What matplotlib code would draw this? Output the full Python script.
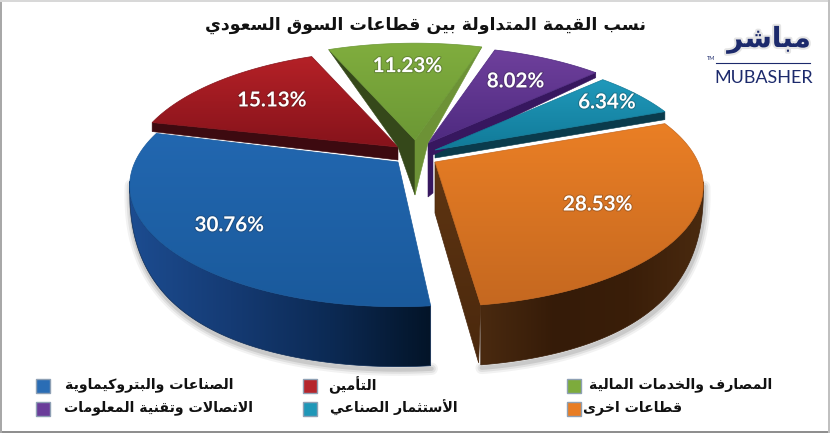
import numpy as np
import matplotlib
matplotlib.use("Agg")
import matplotlib.pyplot as plt
from matplotlib.patches import Polygon, Rectangle
from matplotlib.colors import LinearSegmentedColormap
import matplotlib.patheffects as pe

# ---------- data ----------
title_text = "نسب القيمة المتداولة بين قطاعات السوق السعودي"
categories = ["الصناعات والبتروكيماوية", "التأمين", "المصارف والخدمات المالية",
              "الاتصالات وتقنية المعلومات", "الأستثمار الصناعي", "قطاعات اخرى"]
values = [30.76, 15.13, 11.23, 8.02, 6.34, 28.53]
logo_ar = "مباشر"
logo_en = "MUBASHER"

# ---------- style ----------
START = 167.3                  # red/blue boundary; the slices after blue run clockwise from here
BLUE_START = 165.0             # blue is drawn slightly rotated from its neighbours, as in the picture
R, S, K = 263.0, 116.0, 0.198  # perspective of the pie disc
CENTER = (415, 155)
offsets = [(-17, 7), (-17, -8), (0, -15), (13, -12), (20, -5), (20, 7)]
label_r = [0.76, 0.68, 0.73, 0.70, 0.84, 0.67]
top_grad = [("#2267b0", "#1a5a9c"), ("#b52127", "#86131b"), ("#80ad3e", "#6c9835"),
            ("#6f409c", "#4e2a80"), ("#2099bb", "#117a98"), ("#ea7f25", "#c56820")]
legend_fill = ["#2a6db5", "#b5252c", "#7dab3c", "#6a3d9a", "#1f97b8", "#e87d24"]

# ---------- arabic shaping (matplotlib does not shape or reorder) ----------
LET = "ءآأؤإئابةتثجحخدذرزسشصضطظعغفقكلمنهوىي"
NF = [1, 2, 2, 2, 2, 4, 2, 4, 2, 4, 4, 4, 4, 4, 2, 2, 2, 2, 4, 4, 4, 4, 4, 4, 4, 4, 4, 4, 4, 4, 4, 4, 4, 2, 2, 4]
FORMS = {}
_c = 0xFE80
for _l, _n in zip(LET, NF):
    FORMS[_l] = [_c + i for i in range(_n)]
    _c += _n
LAM_ALEF = {"ا": (0xFEFB, 0xFEFC), "أ": (0xFEF7, 0xFEF8), "إ": (0xFEF9, 0xFEFA), "آ": (0xFEF5, 0xFEF6)}


def dual(ch):
    return ch in FORMS and len(FORMS[ch]) == 4


def shape(text):
    out, i, n = [], 0, len(text)
    while i < n:
        ch = text[i]
        if ch not in FORMS:
            out.append(ch)
            i += 1
            continue
        prev_join = i > 0 and dual(text[i - 1])
        if ch == "ل" and i + 1 < n and text[i + 1] in LAM_ALEF:
            out.append(chr(LAM_ALEF[text[i + 1]][1 if prev_join else 0]))
            i += 2
            continue
        next_join = i + 1 < n and text[i + 1] in FORMS and text[i + 1] != "ء"
        f = FORMS[ch]
        if len(f) == 1:
            g = f[0]
        elif len(f) == 2:
            g = f[1] if prev_join else f[0]
        else:
            g = f[3] if prev_join and next_join else f[1] if prev_join else f[2] if next_join else f[0]
        out.append(chr(g))
        i += 1
    return "".join(reversed(out))


# ---------- figure ----------
fig = plt.figure(figsize=(8.3, 4.33), dpi=100)
ax = fig.add_axes([0, 0, 1, 1])
ax.set_xlim(0, 830)
ax.set_ylim(433, 0)
ax.axis("off")


def proj(theta, r=1.0):
    t = np.radians(theta)
    x, y = r * np.cos(t), r * np.sin(t)
    w = 1 + K * y
    return np.column_stack([R * x / w, -S * y / w]) if np.ndim(theta) else np.array([R * x / w, -S * y / w])


def grad_poly(pts, colors, horizontal=False, z=2):
    pts = np.asarray(pts)
    cmap = LinearSegmentedColormap.from_list("g", colors)
    arr = np.linspace(0, 1, 256)
    arr = arr[None, :] if horizontal else arr[:, None]
    x0, y0 = pts.min(0)
    x1, y1 = pts.max(0)
    im = ax.imshow(arr, cmap=cmap, extent=(x0, x1, y1, y0), aspect="auto", zorder=z, interpolation="bilinear")
    p = Polygon(pts, closed=True, transform=ax.transData, fc="none", ec="none")
    ax.add_patch(p)
    im.set_clip_path(p)
    ax.add_patch(Polygon(pts, closed=True, fc="none", ec=colors[len(colors) // 2], lw=0.5, zorder=z))
    ax.set_xlim(0, 830)
    ax.set_ylim(433, 0)


def wall_depth(theta, D=60.0):
    s = np.clip((-np.sin(np.radians(theta)) - 0.15) / 0.85, 0, 1)
    return D * (1 - (1 - s) ** 2)


# slice angles from the values
total = sum(values)
bounds = {0: (BLUE_START, BLUE_START + values[0] / total * 360)}
cur = START
for i in [1, 2, 3, 4, 5]:
    bounds[i] = (cur, cur - values[i] / total * 360)
    cur -= values[i] / total * 360


def slice_pts(i):
    a0, a1 = bounds[i]
    th = np.linspace(a0, a1, 120)
    apex = np.array(CENTER) + np.array(offsets[i])
    return apex, th, apex + proj(th)


def top(i):
    apex, th, rim = slice_pts(i)
    grad_poly(np.vstack([apex, rim]), top_grad[i], z=3 + i * 0.1)


def outer_wall(i, colors):
    apex, th, rim = slice_pts(i)
    d = wall_depth(th)
    keep = d > 0
    upper, lower = rim[keep], rim[keep] + np.column_stack([np.zeros(keep.sum()), d[keep]])
    grad_poly(np.vstack([upper, lower[::-1]]), colors, horizontal=True, z=2.5)


def flat(pts, color, z):
    ax.add_patch(Polygon(pts, closed=True, fc=color, ec=color, lw=0.4, zorder=z))


# soft drop shadows below the thick slices
for i in (0, 5):
    apex, th, rim = slice_pts(i)
    d = wall_depth(th)
    keep = d > 0
    low = rim[keep] + np.column_stack([np.zeros(keep.sum()), d[keep]])
    for lw, al in [(9, 0.05), (6, 0.07), (3, 0.10)]:
        ax.plot(low[:, 0] + 1, low[:, 1] + 3, color="black", lw=lw, alpha=al, zorder=1,
                solid_capstyle="round")

# red
apex, th, rim = slice_pts(1)
flat([apex, rim[0], rim[0] + [0, 9], apex + [0, 13]], "#3d0a10", 2.2)
top(1)

# blue
outer_wall(0, ["#1c4c90", "#153b74", "#0c2a54", "#031428"])
top(0)

# teal
apex, th, rim = slice_pts(4)
flat([apex, rim[-1], rim[-1] + [0, 8], apex + [0, 8]], "#0a3b4c", 2.6)
top(4)

# purple
apex, th, rim = slice_pts(3)
flat([apex, rim[-1], rim[-1] + [0, 5], apex + [5, 12], apex + [5, 50], apex + [0, 54]], "#37175f", 2.7)
top(3)

# orange
outer_wall(5, ["#4a2a10", "#351b08", "#3a1e09", "#4a2a0f"])
apex, th, rim = slice_pts(5)
grad_poly([apex, apex + [0, 51], rim[-1] + [-2, 58], rim[-1]], ["#5f3512", "#4a280d"], z=2.8)
top(5)

# green: raised wedge with two visible inner walls
apex, th, rim = slice_pts(2)
tip = apex + [0, 55]
flat([rim[0], apex, tip, apex + [-17, 7]], "#35481a", 4.0)
flat([rim[-1], apex, tip, apex + [13, 3]], "#6d9236", 4.0)
grad_poly(np.vstack([apex, rim]), top_grad[2], z=4.1)

# value labels
mids = [(bounds[i][0] + bounds[i][1]) / 2 for i in range(6)]
for i, v in enumerate(values):
    p = np.array(CENTER) + np.array(offsets[i]) + proj(mids[i], label_r[i])
    ax.text(p[0], p[1], f"{v:.2f}%", color="white", fontsize=14.8, fontweight="bold", family="Lato",
            ha="center", va="center", zorder=6,
            path_effects=[pe.withStroke(linewidth=1.5, foreground="#222222", alpha=0.25)])

# title
ax.text(425, 25, shape(title_text), family="DejaVu Sans", fontweight="bold", fontsize=12.5,
        ha="center", va="center", color="#111111", zorder=6)

# legend
leg_x = [43, 310, 574]
leg_tx = [233, 377, 772, 253, 458, 682]
leg_y = [386, 409]
grid = [(0, 0, 0), (1, 1, 0), (2, 2, 0), (3, 0, 1), (4, 1, 1), (5, 2, 1)]
for idx, col, row in grid:
    ax.add_patch(Rectangle((leg_x[col] - 7, leg_y[row] - 7), 14, 14, fc=legend_fill[idx], ec="#8ea0b4",
                           lw=1.0, zorder=6))
    ax.text(leg_tx[idx], leg_y[row] - 1, shape(categories[idx]), family="DejaVu Sans", fontweight="bold",
            fontsize=10.2, ha="right", va="center", color="#111111", zorder=6)

# logo
navy = "#1c2a6c"
ax.text(769, 40, shape(logo_ar), family="DejaVu Sans", fontweight="bold", fontsize=20, color=navy,
        ha="center", va="center", zorder=6,
        path_effects=[pe.withStroke(linewidth=3, foreground="#999999", alpha=0.25)])
ax.plot([716, 810], [63, 63], color=navy, lw=0.8, zorder=6)
ax.text(764, 78, logo_en, family="Lato", fontsize=13, color=navy,
        ha="center", va="center", zorder=6)
ax.text(711, 58, "TM", family="Lato", fontsize=4, color=navy, ha="center", va="center", zorder=6)

# frame of the picture
ax.add_patch(Rectangle((0, 430.5), 830, 3, fc="#8f8f8f", ec="none", zorder=7))
ax.add_patch(Rectangle((0, 0), 1.5, 433, fc="#a8a8a8", ec="none", zorder=7))
ax.add_patch(Rectangle((0, 0), 830, 1.5, fc="#d8d8d8", ec="none", zorder=7))
ax.add_patch(Rectangle((828, 0), 2, 433, fc="#c0c0c0", ec="none", zorder=7))

fig.savefig("out.png", dpi=100)
